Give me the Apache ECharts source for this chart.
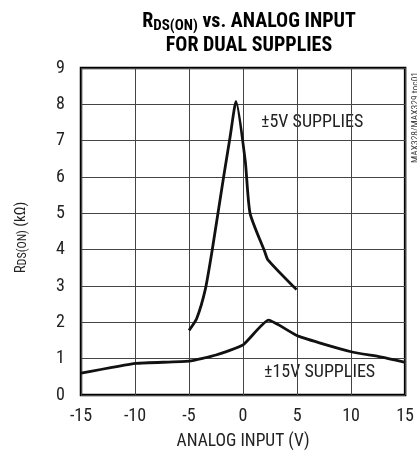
<!DOCTYPE html>
<html><head><meta charset="utf-8">
<script src="https://cdn.jsdelivr.net/npm/echarts@6/dist/echarts.min.js"></script>
<style>html,body{margin:0;padding:0;background:#fff}#c{width:417px;height:456px}</style>
</head><body><div id="c"></div>
<script>
const xTicks = [-15, -10, -5, 0, 5, 10, 15];
const yTicks = [0, 1, 2, 3, 4, 5, 6, 7, 8, 9];
const supply5V_x = [-5, -4.3, -3.5, -2.85, -1.8, -1.2, -0.65, 0.2, 0.65, 2.0, 2.3, 4.95];
const supply5V_y = [1.78, 2.1, 2.9, 4.0, 6.0, 7.1, 8.08, 6.45, 5.0, 3.95, 3.72, 2.9];
const supply15V_x = [-15, -9.9, -5, -2.5, 0, 2.35, 5.1, 10, 12.7, 15];
const supply15V_y = [0.6, 0.87, 0.93, 1.1, 1.38, 2.06, 1.62, 1.19, 1.05, 0.9];
const labels = ['±5V SUPPLIES', '±15V SUPPLIES'];

const FONT = '"Roboto Condensed", "Liberation Sans", sans-serif';
const chart = echarts.init(document.getElementById('c'), null, {renderer: 'canvas'});
chart.setOption({
  animation: false,
  backgroundColor: '#fff',
  title: {
    text: '{b|R}{s|DS(ON)}{b| vs. ANALOG INPUT}\n{b|FOR DUAL SUPPLIES}',
    left: 244, top: 5, textAlign: 'center',
    textStyle: {
      rich: {
        b: {fontFamily: FONT, fontWeight: 'bold', fontSize: 20, color: '#000', lineHeight: 24},
        s: {fontFamily: FONT, fontWeight: 'bold', fontSize: 15, color: '#000', lineHeight: 24, verticalAlign: 'bottom', padding: [6,0,0,0]}
      }
    }
  },
  grid: {left: 81, right: 9, top: 68, bottom: 61, show: true, borderColor: '#000', borderWidth: 2.5, backgroundColor: 'transparent'},
  xAxis: {
    type: 'value', min: xTicks[0], max: xTicks[xTicks.length-1], interval: 5,
    axisLine: {show: false}, axisTick: {show: false},
    splitLine: {show: true, lineStyle: {color: '#444', width: 1}},
    axisLabel: {fontFamily: FONT, fontSize: 18, color: '#222', margin: 12},
    name: 'ANALOG INPUT (V)', nameLocation: 'middle', nameGap: 38,
    nameTextStyle: {fontFamily: FONT, fontSize: 17.5, color: '#222'}
  },
  yAxis: {
    type: 'value', min: yTicks[0], max: yTicks[yTicks.length-1], interval: 1,
    axisLine: {show: false}, axisTick: {show: false},
    splitLine: {show: true, lineStyle: {color: '#444', width: 1}},
    axisLabel: {fontFamily: FONT, fontSize: 18, color: '#222', margin: 16},
    name: '{n|R}{s|DS(ON)}{n| (kΩ)}', nameLocation: 'middle', nameGap: 52, nameRotate: 90,
    nameTextStyle: {padding: [0, 12, 0, 0], rich: {
      n: {fontFamily: FONT, fontSize: 15, color: '#222'},
      s: {fontFamily: FONT, fontSize: 12, color: '#222', verticalAlign: 'bottom', padding: [4,0,0,0]}
    }}
  },
  series: [
    {type: 'line', data: supply5V_x.map((x, i) => [x, supply5V_y[i]]), showSymbol: false, smooth: 0.2,
     lineStyle: {color: '#111', width: 2.8}, z: 5},
    {type: 'line', data: supply15V_x.map((x, i) => [x, supply15V_y[i]]), showSymbol: false, smooth: 0.15,
     lineStyle: {color: '#111', width: 2.8}, z: 5}
  ],
  graphic: [
    {type: 'text', left: 261, top: 113, style: {text: labels[0], fontFamily: FONT, fontSize: 18, fill: '#222', backgroundColor: '#fff'}},
    {type: 'text', left: 264, top: 363, style: {text: labels[1], fontFamily: FONT, fontSize: 18, fill: '#222', backgroundColor: '#fff'}},
    {type: 'text', x: 411, y: 163, rotation: Math.PI/2, style: {text: 'MAX328/MAX329 toc01', fontFamily: FONT, fontSize: 9.5, fill: '#444', textVerticalAlign: 'top'}}
  ]
});
</script></body></html>
